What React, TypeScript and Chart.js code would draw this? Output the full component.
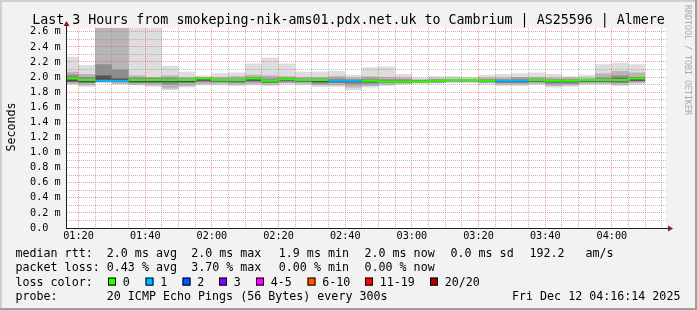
import React, { useEffect, useRef } from 'react';
import { Chart, registerables } from 'chart.js';

Chart.register(...registerables);

// ---------- text ----------
const TITLE = 'Last 3 Hours from smokeping-nik-ams01.pdx.net.uk to Cambrium | AS25596 | Almere';
const Y_TITLE = 'Seconds';
const WATERMARK = 'RRDTOOL / TOBI OETIKER';

// ---------- time range ----------
const RANGE_START = '01:16:14';
const RANGE_END = '04:16:14';
const BAR_STEP_MIN = 5;

const X_TICK_TIMES = ['01:20', '01:40', '02:00', '02:20', '02:40', '03:00', '03:20', '03:40', '04:00'];
const X_TICK_LABELS = ['01:20', '01:40', '02:00', '02:20', '02:40', '03:00', '03:20', '03:40', '04:00'];

const Y_MAX = 2.65;
const Y_TICK_VALUES = [0, 0.2, 0.4, 0.6, 0.8, 1.0, 1.2, 1.4, 1.6, 1.8, 2.0, 2.2, 2.4, 2.6];
const Y_TICK_LABELS = ['0.0', '0.2 m', '0.4 m', '0.6 m', '0.8 m', '1.0 m', '1.2 m', '1.4 m', '1.6 m', '1.8 m', '2.0 m', '2.2 m', '2.4 m', '2.6 m'];

// ---------- data (ms), one value per 5-minute step, time = end of step ----------
const BAR_END = ['01:20', '01:25', '01:30', '01:35', '01:40', '01:45', '01:50', '01:55', '02:00', '02:05',
  '02:10', '02:15', '02:20', '02:25', '02:30', '02:35', '02:40', '02:45', '02:50', '02:55',
  '03:00', '03:05', '03:10', '03:15', '03:20', '03:25', '03:30', '03:35', '03:40', '03:45',
  '03:50', '03:55', '04:00', '04:05', '04:10'];

const smokeMin = [1.90, 1.87, 1.92, 1.90, 1.89, 1.87, 1.83, 1.86, 1.89, 1.89,
  1.88, 1.89, 1.88, 1.90, 1.89, 1.87, 1.87, 1.83, 1.86, 1.88,
  1.90, 1.91, 1.91, 1.92, 1.92, 1.90, 1.88, 1.88, 1.90, 1.86,
  1.87, 1.90, 1.90, 1.88, 1.90];
const smokeLo = [1.91, 1.89, 1.93, 1.91, 1.90, 1.89, 1.85, 1.88, 1.91, 1.91,
  1.90, 1.91, 1.90, 1.92, 1.91, 1.89, 1.89, 1.86, 1.88, 1.90,
  1.91, 1.92, 1.92, 1.93, 1.93, 1.92, 1.90, 1.90, 1.91, 1.88,
  1.89, 1.91, 1.91, 1.90, 1.92];
const smokeLo2 = [1.93, 1.92, 1.94, 1.93, 1.92, 1.92, 1.90, 1.92, 1.93, 1.93,
  1.92, 1.93, 1.92, 1.93, 1.93, 1.91, 1.92, 1.90, 1.91, 1.92,
  1.92, 1.93, 1.93, 1.94, 1.94, 1.93, 1.92, 1.92, 1.93, 1.91,
  1.91, 1.93, 1.93, 1.92, 1.94];
const coreLo = [1.94, 1.93, 1.94, 1.94, 1.93, 1.93, 1.93, 1.93, 1.95, 1.94,
  1.94, 1.95, 1.93, 1.95, 1.94, 1.93, 1.93, 1.93, 1.93, 1.93,
  1.93, 1.93, 1.94, 1.95, 1.95, 1.94, 1.93, 1.93, 1.94, 1.93,
  1.93, 1.94, 1.94, 1.94, 1.95];
const median = [1.98, 1.96, 1.95, 1.95, 1.96, 1.96, 1.96, 1.96, 1.98, 1.96,
  1.96, 1.98, 1.95, 1.97, 1.96, 1.96, 1.95, 1.95, 1.95, 1.94,
  1.94, 1.94, 1.95, 1.96, 1.96, 1.95, 1.95, 1.95, 1.96, 1.95,
  1.95, 1.96, 1.96, 1.96, 1.98];
const coreHi = [1.98, 1.97, 2.02, 1.98, 1.97, 1.97, 1.97, 1.97, 1.98, 1.97,
  1.97, 1.98, 1.96, 1.98, 1.97, 1.97, 1.96, 1.96, 1.96, 1.95,
  1.95, 1.95, 1.96, 1.96, 1.96, 1.96, 1.96, 1.96, 1.97, 1.96,
  1.96, 1.96, 1.97, 1.98, 1.98];
const smokeHi2 = [2.03, 2.00, 2.17, 2.10, 1.99, 1.99, 1.99, 1.98, 1.99, 1.98,
  1.98, 2.00, 1.98, 1.99, 1.98, 1.98, 1.98, 1.97, 1.98, 1.97,
  1.97, 1.96, 1.97, 1.97, 1.97, 1.97, 1.97, 1.98, 1.98, 1.97,
  1.97, 1.97, 1.99, 2.02, 2.00];
const smokeHi = [2.07, 2.04, 2.90, 2.90, 2.02, 2.00, 2.02, 2.00, 2.00, 2.00,
  2.01, 2.03, 2.02, 2.01, 2.00, 2.00, 2.01, 1.99, 2.01, 2.00,
  1.99, 1.97, 1.98, 1.98, 1.98, 1.99, 1.99, 2.00, 2.00, 1.99,
  1.99, 1.99, 2.05, 2.08, 2.06];
const smokeMax = [2.27, 2.16, 2.90, 2.90, 2.90, 2.90, 2.15, 2.07, 2.02, 2.05,
  2.06, 2.18, 2.26, 2.18, 2.07, 2.07, 2.08, 2.03, 2.13, 2.14,
  2.04, 1.99, 2.01, 2.01, 2.00, 2.03, 2.04, 2.05, 2.06, 2.04,
  2.01, 2.03, 2.17, 2.19, 2.17];
const lossCount = [0, 0, 1, 1, 0, 0, 0, 0, 0, 0,
  0, 0, 0, 0, 0, 0, 1, 1, 0, 0,
  0, 0, 0, 0, 0, 0, 1, 1, 0, 0,
  0, 0, 0, 0, 0];

// ---------- legend ----------
const ROW_LABELS = ['median rtt:', 'packet loss:', 'loss color:', 'probe:'];
const MEDIAN_STATS = ['2.0 ms avg', '2.0 ms max', '1.9 ms min', '2.0 ms now', '0.0 ms sd', '192.2', 'am/s'];
const LOSS_STATS = ['0.43 % avg', '3.70 % max', '0.00 % min', '0.00 % now'];
const LOSS_LABELS = ['0', '1', '2', '3', '4-5', '6-10', '11-19', '20/20'];
const LOSS_COLORS = ['#26ff00', '#00b8ff', '#0059ff', '#7e00ff', '#ff00ff', '#ff5500', '#ff0000', '#a10000'];
const PROBE_TEXT = '20 ICMP Echo Pings (56 Bytes) every 300s';
const DATE_TEXT = 'Fri Dec 12 04:16:14 2025';

// ---------- style ----------
const MONO = '"DejaVu Sans Mono", monospace';
const C_BACK = '#f2f2f2';
const C_SHADEA = '#cfcfcf';
const C_SHADEB = '#9e9e9e';
const C_GRID = 'rgba(143,143,143,0.6)';
const C_MGRID = 'rgba(222,80,80,0.55)';
const C_AXIS = '#1f1f1f';
const C_ARROW = '#7f1f1f';
const SMOKE = ['#dddddd', '#b6b6b6', '#8e8e8e', '#4e4e4e'];

const toMin = (s: string) => {
  const p = s.split(':').map(Number);
  return p[0] * 60 + p[1] + (p[2] || 0) / 60;
};
const X_MIN = toMin(RANGE_START);
const X_MAX = toMin(RANGE_END);
const barEndMin = BAR_END.map(toMin);
const xTickMin = X_TICK_TIMES.map(toMin);

function steps(values: number[]) {
  const pts: { x: number; y: number }[] = [];
  values.forEach((v, i) => {
    const end = barEndMin[i];
    pts.push({ x: Math.max(end - BAR_STEP_MIN, X_MIN), y: v }, { x: end, y: v });
  });
  return pts;
}

function lossColor(n: number) {
  const idx = n <= 3 ? n : n <= 5 ? 4 : n <= 10 ? 5 : n <= 19 ? 6 : 7;
  return LOSS_COLORS[idx];
}

const near = (a: number, b: number) => Math.abs(a - b) < 1e-6;

const rrdPlugin = {
  id: 'rrdFrame',
  beforeDraw(chart: any) {
    const { ctx, chartArea: a, width, height } = chart;
    ctx.save();
    ctx.fillStyle = C_BACK;
    ctx.fillRect(0, 0, width, height);
    ctx.fillStyle = C_SHADEA;
    ctx.fillRect(0, 0, width, 2);
    ctx.fillRect(0, 0, 2, height);
    ctx.fillStyle = C_SHADEB;
    ctx.fillRect(0, height - 2, width, 2);
    ctx.fillRect(width - 2, 0, 2, height);
    ctx.fillStyle = '#ffffff';
    ctx.fillRect(a.left, a.top, a.right - a.left, a.bottom - a.top);
    ctx.restore();
  },
  afterDraw(chart: any) {
    const { ctx, chartArea: a } = chart;
    ctx.save();
    // axis extensions + arrows
    ctx.strokeStyle = C_AXIS;
    ctx.lineWidth = 1;
    ctx.beginPath();
    ctx.moveTo(a.right, a.bottom + 0.5);
    ctx.lineTo(a.right + 3, a.bottom + 0.5);
    ctx.moveTo(a.left + 0.5, a.top);
    ctx.lineTo(a.left + 0.5, a.top - 3);
    ctx.stroke();
    ctx.fillStyle = C_ARROW;
    ctx.beginPath();
    ctx.moveTo(a.right + 2, a.bottom + 0.5 - 3);
    ctx.lineTo(a.right + 7, a.bottom + 0.5);
    ctx.lineTo(a.right + 2, a.bottom + 0.5 + 3);
    ctx.closePath();
    ctx.fill();
    ctx.beginPath();
    ctx.moveTo(a.left + 0.5 - 3, a.top - 2);
    ctx.lineTo(a.left + 0.5, a.top - 7);
    ctx.lineTo(a.left + 0.5 + 3, a.top - 2);
    ctx.closePath();
    ctx.fill();

    // title
    ctx.fillStyle = '#000';
    ctx.textBaseline = 'alphabetic';
    ctx.textAlign = 'center';
    ctx.font = `13.3px ${MONO}`;
    ctx.fillText(TITLE, 348.5, 24);

    // y title
    ctx.save();
    ctx.font = `11.66px ${MONO}`;
    ctx.translate(14.5, (a.top + a.bottom) / 2 - 1);
    ctx.rotate(-Math.PI / 2);
    ctx.fillText(Y_TITLE, 0, 0);
    ctx.restore();

    // watermark
    ctx.save();
    ctx.font = `8.3px ${MONO}`;
    ctx.fillStyle = '#aaaaaa';
    ctx.textAlign = 'left';
    ctx.translate(684.5, 5);
    ctx.rotate(Math.PI / 2);
    ctx.fillText(WATERMARK, 0, 0);
    ctx.restore();

    // legend
    ctx.textAlign = 'left';
    ctx.fillStyle = '#000';
    ctx.font = `11.66px ${MONO}`;
    const rows = [257.3, 271.3, 285.6, 299.8];
    const lx = 15.5;
    ROW_LABELS.forEach((t, i) => ctx.fillText(t, lx, rows[i]));
    const statX = [106.8, 191.2, 278.8, 364.5, 450.5, 529.5, 585.5];
    MEDIAN_STATS.forEach((t, i) => ctx.fillText(t, statX[i], rows[0]));
    LOSS_STATS.forEach((t, i) => ctx.fillText(t, statX[i], rows[1]));
    const boxX = [108, 145.5, 182.5, 219, 256, 307.5, 365, 430];
    LOSS_LABELS.forEach((t, i) => {
      const bx = boxX[i];
      const by = rows[2] - 8;
      ctx.fillStyle = LOSS_COLORS[i];
      ctx.fillRect(bx, by, 8, 8);
      ctx.strokeStyle = '#000';
      ctx.lineWidth = 1;
      ctx.strokeRect(bx + 0.5, by + 0.5, 7, 7);
      ctx.fillStyle = '#000';
      ctx.fillText(t, bx + 14.8, rows[2]);
    });
    ctx.fillText(PROBE_TEXT, statX[0], rows[3]);
    ctx.fillText(DATE_TEXT, 512, rows[3]);
    ctx.restore();
  },
};

export default function App() {
  const ref = useRef<HTMLCanvasElement | null>(null);

  useEffect(() => {
    if (!ref.current) return;
    const boundary = (values: number[], order: number) => ({
      data: steps(values),
      borderWidth: 0,
      borderColor: 'rgba(0,0,0,0)',
      pointRadius: 0,
      fill: false,
      order,
    });
    const band = (values: number[], target: number, color: string, order: number) => ({
      data: steps(values),
      borderWidth: 0,
      borderColor: 'rgba(0,0,0,0)',
      backgroundColor: color,
      pointRadius: 0,
      fill: { target },
      order,
    });

    const datasets: any[] = [
      boundary(smokeMin, 20),
      band(smokeMax, 0, SMOKE[0], 19),
      boundary(smokeLo, 18),
      band(smokeHi, 2, SMOKE[1], 17),
      boundary(smokeLo2, 16),
      band(smokeHi2, 4, SMOKE[2], 15),
      boundary(coreLo, 14),
      band(coreHi, 6, SMOKE[3], 13),
      {
        data: steps(median),
        borderWidth: 2,
        borderColor: LOSS_COLORS[0],
        borderCapStyle: 'butt',
        pointRadius: 0,
        fill: false,
        order: 0,
        segment: {
          borderColor: (c: any) => {
            const b0 = Math.floor(c.p0DataIndex / 2);
            const b1 = Math.floor(c.p1DataIndex / 2);
            const c0 = lossColor(lossCount[b0]);
            const c1 = lossColor(lossCount[b1]);
            return c0 === c1 ? c0 : 'rgba(0,0,0,0)';
          },
        },
      },
    ];

    const chart = new Chart(ref.current, {
      type: 'line',
      data: { datasets },
      options: {
        animation: false,
        responsive: false,
        devicePixelRatio: 1,
        events: [],
        layout: { padding: { left: 30, right: 31, top: 28, bottom: 62 } },
        plugins: {
          legend: { display: false },
          tooltip: { enabled: false },
          title: { display: false },
        },
        scales: {
          x: {
            type: 'linear',
            min: X_MIN,
            max: X_MAX,
            bounds: 'data',
            afterBuildTicks: (s: any) => {
              const t: any[] = [];
              for (let v = xTickMin[0]; v <= X_MAX; v += BAR_STEP_MIN) t.push({ value: v });
              s.ticks = t;
            },
            afterFit: (s: any) => { s.height = 20; },
            ticks: {
              autoSkip: false,
              maxRotation: 0,
              minRotation: 0,
              padding: 2,
              color: '#000',
              font: { family: MONO, size: 10.2 },
              callback: (v: any) => {
                const i = xTickMin.findIndex((m) => near(m, Number(v)));
                return i >= 0 ? X_TICK_LABELS[i] : '';
              },
            },
            grid: {
              drawTicks: false,
              lineWidth: 1,
              z: 1,
              color: (c: any) => {
                const v = c.tick ? c.tick.value : NaN;
                return xTickMin.some((m) => near(m, v)) ? C_MGRID : C_GRID;
              },
            },
            border: { display: true, color: C_AXIS, width: 1, dash: [1, 1], z: 2 },
          },
          y: {
            type: 'linear',
            min: 0,
            max: Y_MAX,
            bounds: 'data',
            afterBuildTicks: (s: any) => {
              const t: any[] = [];
              for (let k = 0; k <= 26; k++) t.push({ value: k / 10 });
              s.ticks = t;
            },
            afterFit: (s: any) => { s.width = 36; },
            ticks: {
              autoSkip: false,
              crossAlign: 'far',
              padding: 0,
              color: '#000',
              font: { family: MONO, size: 10.2 },
              callback: (v: any) => {
                const i = Y_TICK_VALUES.findIndex((m) => near(m, Number(v)));
                return i >= 0 ? Y_TICK_LABELS[i] : '';
              },
            },
            grid: {
              drawTicks: false,
              lineWidth: 1,
              z: 1,
              color: (c: any) => {
                const v = c.tick ? c.tick.value : NaN;
                return Y_TICK_VALUES.some((m) => near(m, v)) ? C_MGRID : C_GRID;
              },
            },
            border: { display: true, color: C_AXIS, width: 1, dash: [1, 1], z: 2 },
          },
        },
      } as any,
      plugins: [rrdPlugin],
    });
    return () => chart.destroy();
  }, []);

  return (
    <div style={{ position: 'absolute', left: 0, top: 0, width: 697, height: 310 }}>
      <canvas ref={ref} width={697} height={310} style={{ display: 'block', width: 697, height: 310 }} />
    </div>
  );
}
